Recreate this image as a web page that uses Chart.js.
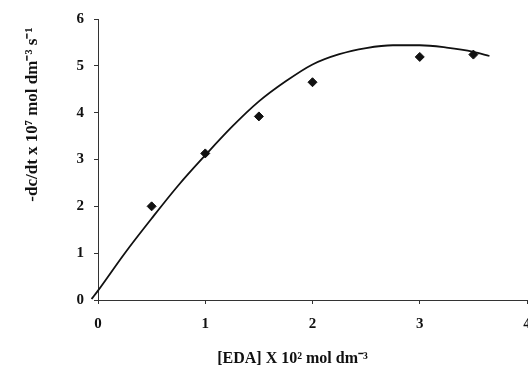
<!DOCTYPE html>
<html lang="en">
<head>
    <meta charset="UTF-8">
    <title>Rate vs [EDA]</title>
    <script src="https://cdn.jsdelivr.net/npm/chart.js@4.4.0/dist/chart.umd.min.js"></script>
    <style>
        body { margin: 0; background: #fff; }
        #wrap { width: 528px; height: 370px; }
    </style>
</head>
<body>
    <div id="wrap"><canvas id="rateChart" width="528" height="370"></canvas></div>

    <script>
        // measured points
        var pointX = [0.5, 1.0, 1.5, 2.0, 3.0, 3.5];
        var pointY = [2.0, 3.13, 3.92, 4.65, 5.19, 5.24];

        // fitted curve
        var curveX = [-0.06, 0, 0.25, 0.5, 0.75, 1.0, 1.25, 1.5, 1.75, 2.0, 2.25, 2.5, 2.75, 3.0, 3.25, 3.5, 3.65];
        var curveY = [0.02, 0.2, 1.0, 1.74, 2.45, 3.09, 3.7, 4.24, 4.67, 5.03, 5.25, 5.38, 5.44, 5.44, 5.39, 5.3, 5.21];

        var xTicks = [0, 1, 2, 3, 4];
        var yTicks = [0, 1, 2, 3, 4, 5, 6];

        // trailing no-break spaces nudge the titles off-centre like in the scan
        var xTitle = '[EDA] X 10\u00b2 mol dm\u207b\u00b3' + '\u00a0'.repeat(10);
        var yTitle = '-dc/dt x 10\u2077 mol dm\u207b\u00b3 s\u207b\u00b9' + '\u00a0'.repeat(2);

        function toXY(xs, ys) {
            return xs.map(function (x, i) { return { x: x, y: ys[i] }; });
        }

        var serif = 'Liberation Serif';

        var ctx = document.getElementById('rateChart').getContext('2d');
        var myChart = new Chart(ctx, {
            type: 'scatter',
            data: {
                datasets: [{
                    label: 'fit',
                    data: toXY(curveX, curveY),
                    showLine: true,
                    borderColor: '#111',
                    borderWidth: 1.8,
                    pointRadius: 0,
                    cubicInterpolationMode: 'monotone',
                    clip: false
                }, {
                    label: 'data',
                    data: toXY(pointX, pointY),
                    pointStyle: 'rectRot',
                    pointRadius: 4.5,
                    backgroundColor: '#111',
                    borderColor: '#111'
                }]
            },
            options: {
                responsive: false,
                animation: false,
                layout: { autoPadding: false, padding: { top: 15, right: 1, left: 0, bottom: 0 } },
                plugins: {
                    legend: { display: false },
                    tooltip: { enabled: false }
                },
                scales: {
                    x: {
                        type: 'linear',
                        min: 0,
                        max: 4,
                        afterBuildTicks: function (s) { s.ticks = xTicks.map(function (v) { return { value: v }; }); },
                        afterFit: function (s) { s.height = 70; s.paddingRight = 0; },
                        grid: { drawOnChartArea: false, drawTicks: true, tickLength: 4, color: '#333' },
                        border: { display: true, color: '#333', dash: [1, 1] },
                        ticks: {
                            color: '#111',
                            padding: 11,
                            maxRotation: 0,
                            font: { family: serif, size: 15, weight: 'bold' }
                        },
                        title: {
                            display: true,
                            text: xTitle,
                            color: '#111',
                            padding: { top: 0, bottom: 2 },
                            font: { family: serif, size: 16, weight: 'bold' }
                        }
                    },
                    y: {
                        min: 0,
                        max: 6,
                        afterBuildTicks: function (s) { s.ticks = yTicks.map(function (v) { return { value: v }; }); },
                        afterFit: function (s) { s.width = 98; },
                        grid: { drawOnChartArea: false, drawTicks: true, tickLength: 4, color: '#333' },
                        border: { display: true, color: '#333', dash: [1, 1] },
                        ticks: {
                            color: '#111',
                            padding: 10,
                            font: { family: serif, size: 15, weight: 'bold' }
                        },
                        title: {
                            display: true,
                            text: yTitle,
                            align: 'end',
                            color: '#111',
                            padding: { top: 22, bottom: 0 },
                            font: { family: serif, size: 17, weight: 'bold' }
                        }
                    }
                }
            }
        });
    </script>
</body>
</html>
